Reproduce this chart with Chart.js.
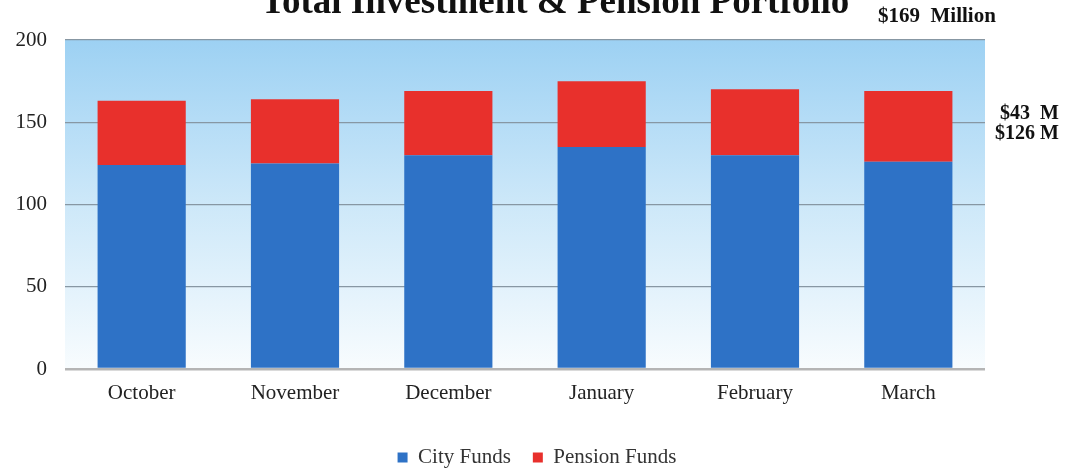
<!DOCTYPE html>
<html>
<head>
<meta charset="utf-8">
<script src="https://cdn.jsdelivr.net/npm/chart.js@4/dist/chart.umd.min.js"></script>
<style>
html,body{margin:0;padding:0;background:#fff;}
#wrap{position:relative;width:1084px;height:468px;}
</style>
</head>
<body>
<div id="wrap"><canvas id="c" width="1084" height="468"></canvas></div>
<script>
const categories = ["October","November","December","January","February","March"];
const cityFunds = [124, 125, 130, 135, 130, 126];
const pensionFunds = [39, 39, 39, 40, 40, 43];
const yTicks = [0, 50, 100, 150, 200];
const titleText = "Total Investment & Pension Portfolio";
const totalNote = "$169  Million";
const pensionNote = "$43  M";
const cityNote = "$126 M";

const serif = "'Liberation Serif', 'DejaVu Serif', serif";

const bgPlugin = {
  id: 'bg',
  beforeDraw(chart) {
    const {ctx, chartArea: a} = chart;
    const g = ctx.createLinearGradient(0, a.top, 0, a.bottom);
    g.addColorStop(0, '#9dd1f3');
    g.addColorStop(0.5, '#cde8f9');
    g.addColorStop(1, '#f8fcfe');
    ctx.save();
    ctx.fillStyle = g;
    ctx.fillRect(a.left, a.top, a.right - a.left, a.bottom - a.top);
    ctx.restore();
  },
  afterDraw(chart) {
    const ctx = chart.ctx;
    ctx.save();
    ctx.fillStyle = '#111';
    ctx.textBaseline = 'alphabetic';
    ctx.textAlign = 'center';
    ctx.font = "bold 37px " + serif;
    ctx.fillText(titleText, 555, 13);
    ctx.textAlign = 'left';
    ctx.font = "bold 21px " + serif;
    ctx.fillText(totalNote, 878, 22);
    ctx.font = "bold 20px " + serif;
    ctx.fillText(pensionNote, 1000, 119);
    ctx.fillText(cityNote, 995, 139);
    ctx.restore();
  }
};

new Chart(document.getElementById('c'), {
  type: 'bar',
  data: {
    labels: categories,
    datasets: [
      {label: 'City Funds', data: cityFunds, backgroundColor: '#2e72c6'},
      {label: 'Pension Funds', data: pensionFunds, backgroundColor: '#e8302c'}
    ]
  },
  options: {
    responsive: false,
    animation: false,
    layout: {padding: {left: 0, right: 10, top: 40, bottom: -10}},
    datasets: {bar: {categoryPercentage: 1, barPercentage: 0.575}},
    plugins: {
      title: {display: false},
      tooltip: {enabled: false},
      legend: {
        position: 'bottom',
        labels: {
          font: {family: serif, size: 21},
          color: '#333',
          boxWidth: 10,
          boxHeight: 10,
          padding: 22,
          useBorderRadius: false
        }
      }
    },
    scales: {
      x: {
        stacked: true,
        grid: {display: false, drawTicks: false},
        border: {display: false},
        ticks: {font: {family: serif, size: 21}, color: '#222', padding: 12},
        afterFit(axis) { axis.height = 56; }
      },
      y: {
        stacked: true,
        min: 0, max: 200,
        afterBuildTicks(axis) { axis.ticks = yTicks.map(v => ({value: v})); },
        afterFit(axis) { axis.width = 65; },
        grid: {
          color: (c) => c.tick && c.tick.value === 0 ? '#b5b5b5' : '#8797a3',
          lineWidth: (c) => c.tick && c.tick.value === 0 ? 2.5 : 1.2,
          drawTicks: false
        },
        border: {display: false},
        ticks: {font: {family: serif, size: 21}, color: '#222', padding: 18}
      },
      yRight: {
        position: 'right',
        display: true,
        grid: {display: false, drawTicks: false},
        border: {display: false},
        ticks: {display: false},
        afterFit(axis) { axis.width = 89; }
      }
    }
  },
  plugins: [bgPlugin]
});
</script>
</body>
</html>
